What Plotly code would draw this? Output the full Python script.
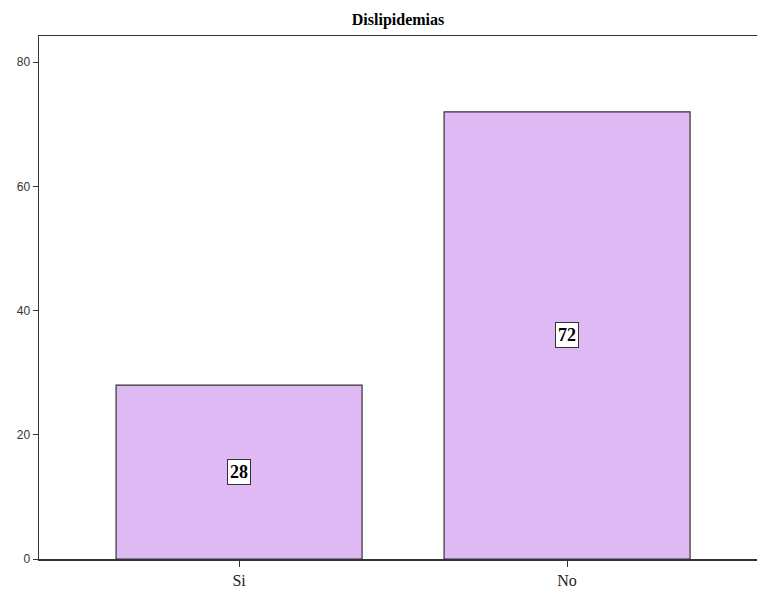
import plotly.graph_objects as go

categories = ["Si", "No"]
values = [28, 72]
title_text = "Dislipidemias"
y_ticks = [0, 20, 40, 60, 80]

fig = go.Figure()
fig.add_trace(go.Bar(
    x=categories, y=values, width=0.75,
    marker=dict(color="#DFB9F3", line=dict(color="#333333", width=1.2)),
    hoverinfo="skip",
))
for c, v in zip(categories, values):
    fig.add_annotation(
        x=c, y=v / 2, text=f"<b>{v}</b>", showarrow=False,
        font=dict(family="Liberation Serif", size=18, color="#000000"),
        bgcolor="#FFFFFF", bordercolor="#333333", borderwidth=1, borderpad=2,
    )
fig.update_layout(
    width=757, height=593,
    margin=dict(l=39, r=0, t=36, b=34),
    paper_bgcolor="#FFFFFF", plot_bgcolor="#FFFFFF",
    showlegend=False,
    title=dict(text=f"<b>{title_text}</b>", x=398 / 757, xanchor="center",
               y=1 - 19 / 593, yanchor="middle",
               font=dict(family="Liberation Serif", size=16, color="#000000")),
    xaxis=dict(range=[-0.61, 1.579], showline=True, mirror=True, linecolor="#333333",
               linewidth=1.5, ticks="outside", ticklen=6, tickcolor="#333333",
               showgrid=False, zeroline=False,
               tickfont=dict(family="Liberation Serif", size=16, color="#222222")),
    yaxis=dict(range=[0, 84.2], tickvals=y_ticks, showline=True, mirror=False,
               linecolor="#333333", linewidth=1.5, ticks="outside", ticklen=5,
               tickcolor="#333333", showgrid=False, zeroline=False,
               tickfont=dict(family="Liberation Sans", size=12, color="#333333")),
)
fig.write_html(
    "out.html",
    config={"displayModeBar": False, "staticPlot": True},
    post_script="document.body.style.margin='0';document.body.style.overflow='hidden';"
                "document.documentElement.style.overflow='hidden';",
)
